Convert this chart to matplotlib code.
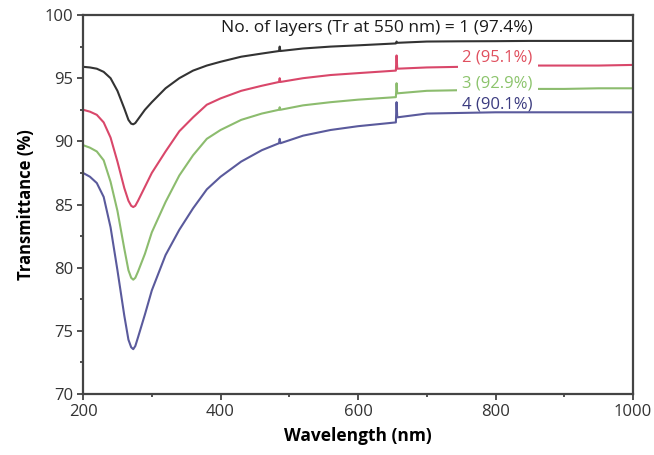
import matplotlib
matplotlib.use("Agg")
import matplotlib.pyplot as plt
from matplotlib.ticker import MultipleLocator

plt.rcParams['font.family'] = ['Open Sans', 'DejaVu Sans']

# wavelength grid (nm); 486 and 656 carry the small artefacts
wl = [200, 210, 220, 230, 240, 250, 260, 266, 270, 273, 276, 280, 290, 300, 320, 340,
      360, 380, 400, 430, 460, 485, 486, 487, 520, 560, 600, 655, 656, 657, 700, 750,
      800, 850, 900, 950, 1000]

tr_1 = [95.9, 95.85, 95.75, 95.5, 95.0, 94.0, 92.6, 91.7, 91.4, 91.35, 91.45, 91.75, 92.5,
        93.1, 94.2, 95.0, 95.6, 96.0, 96.3, 96.7, 96.95, 97.15, 97.5, 97.15, 97.35, 97.5,
        97.6, 97.75, 97.9, 97.8, 97.9, 97.92, 97.93, 97.95, 97.95, 97.95, 97.95]
tr_2 = [92.5, 92.35, 92.1, 91.5, 90.3, 88.4, 86.3, 85.3, 84.9, 84.8, 84.9, 85.3, 86.4,
        87.5, 89.2, 90.8, 91.9, 92.9, 93.4, 94.0, 94.4, 94.7, 95.0, 94.7, 95.0, 95.25,
        95.4, 95.6, 96.8, 95.75, 95.85, 95.9, 95.95, 96.0, 96.0, 96.0, 96.05]
tr_3 = [89.7, 89.5, 89.2, 88.5, 86.8, 84.5, 81.5, 79.8, 79.2, 79.05, 79.2, 79.7, 81.1,
        82.8, 85.2, 87.3, 88.9, 90.2, 90.9, 91.7, 92.2, 92.5, 92.7, 92.5, 92.85, 93.1,
        93.3, 93.5, 94.6, 93.8, 94.0, 94.05, 94.1, 94.15, 94.15, 94.2, 94.2]
tr_4 = [87.5, 87.2, 86.7, 85.6, 83.2, 79.8, 76.2, 74.3, 73.7, 73.55, 73.8, 74.5, 76.3,
        78.2, 81.0, 83.0, 84.7, 86.2, 87.2, 88.4, 89.3, 89.85, 90.2, 89.85, 90.45, 90.9,
        91.2, 91.5, 93.1, 91.9, 92.2, 92.25, 92.3, 92.3, 92.3, 92.3, 92.3]

labels = ['No. of layers (Tr at 550 nm) = 1 (97.4%)', '2 (95.1%)', '3 (92.9%)', '4 (90.1%)']
line_colors = ['#333333', '#d9476a', '#8cbc6e', '#5a5a9c']
text_colors = ['#1a1a1a', '#e0505f', '#8cc46c', '#3c3c80']

fig = plt.figure(figsize=(6.54, 4.55), dpi=100)
ax = fig.add_axes([0.127, 0.134, 0.841, 0.833])

for tr, c in zip([tr_1, tr_2, tr_3, tr_4], line_colors):
    ax.plot(wl, tr, color=c, lw=1.5, zorder=2)

# labels, right aligned near 855 nm; 2 and 3 sit on a white box that hides the line
label_y = [98.95, 96.65, 94.6, 92.95]
label_size = [12.5, 12, 12, 12]
for i, (txt, c, y) in enumerate(zip(labels, text_colors, label_y)):
    box = None
    if i in (1, 2):
        box = dict(facecolor='white', edgecolor='none', pad=3.5)
    ax.text(854, y, txt, color=c, fontsize=label_size[i], ha='right', va='center',
            bbox=box, zorder=3)

ax.set_xlim(200, 1000)
ax.set_ylim(70, 100)
ax.xaxis.set_major_locator(MultipleLocator(200))
ax.xaxis.set_minor_locator(MultipleLocator(100))
ax.yaxis.set_major_locator(MultipleLocator(5))
ax.yaxis.set_minor_locator(MultipleLocator(2.5))
ax.tick_params(which='major', direction='out', length=4, width=1.2, labelsize=12,
               colors='#333333', pad=3)
ax.tick_params(which='minor', direction='out', length=2.5, width=1.2, colors='#333333')
for s in ax.spines.values():
    s.set_linewidth(1.6)
    s.set_color('#444444')

ax.set_xlabel('Wavelength (nm)', fontsize=12.5, fontweight='bold', labelpad=5)
ax.set_ylabel('Transmittance (%)', fontsize=12, fontweight='bold', labelpad=7)

fig.savefig('out.png', dpi=100)
